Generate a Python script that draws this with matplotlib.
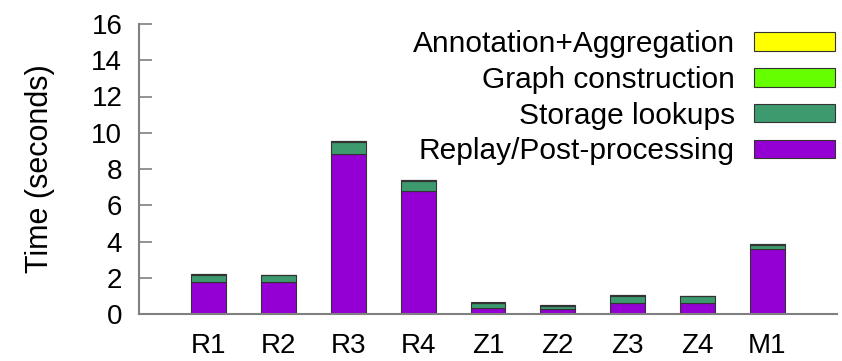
import matplotlib
matplotlib.use("Agg")
import matplotlib.pyplot as plt
import numpy as np

categories = ["R1", "R2", "R3", "R4", "Z1", "Z2", "Z3", "Z4", "M1"]
replay = [1.75, 1.75, 8.81, 6.79, 0.33, 0.26, 0.62, 0.59, 3.59]
storage = [0.42, 0.38, 0.68, 0.55, 0.28, 0.20, 0.40, 0.39, 0.22]
graph = [0.03, 0.03, 0.04, 0.04, 0.02, 0.02, 0.02, 0.02, 0.03]
annot = [0.01, 0.01, 0.01, 0.01, 0.01, 0.01, 0.01, 0.01, 0.01]
series_names = ["Replay/Post-processing", "Storage lookups", "Graph construction", "Annotation+Aggregation"]
colors = ["#9400d3", "#3d9a6f", "#66ff00", "#ffff00"]
yticks = [0, 2, 4, 6, 8, 10, 12, 14, 16]

plt.rcParams['font.family'] = ['Liberation Sans', 'DejaVu Sans']
fig = plt.figure(figsize=(8.42, 3.61), dpi=100)
ax = fig.add_axes([139/842, 1-314/361, (837-139)/842, (314-24)/361])

x = np.arange(len(categories))
bottom = np.zeros(len(categories))
handles = []
for vals, name, c in zip([replay, storage, graph, annot], series_names, colors):
    b = ax.bar(x, vals, width=0.5, bottom=bottom, color=c, edgecolor="#333333", linewidth=0.8, label=name)
    handles.append(b)
    bottom += np.array(vals)

ax.set_xlim(-1, 9)
ax.set_ylim(0, 16)
ax.set_yticks(yticks)
ax.set_xticks(x)
ax.set_xticklabels(categories)
ax.tick_params(axis='y', direction='in', length=9, width=1.2, color='#808080', labelsize=20, pad=12)
ax.tick_params(axis='x', length=0, labelsize=20, pad=14)
for s in ['top', 'right']:
    ax.spines[s].set_visible(False)
for s in ['left', 'bottom']:
    ax.spines[s].set_color('#808080')
    ax.spines[s].set_linewidth(1.5)
ax.set_ylabel("Time (seconds)", fontsize=22, labelpad=26)

leg = ax.legend(handles[::-1], series_names[::-1], loc='upper right', frameon=False,
                fontsize=21.5, markerfirst=False, alignment='right', handlelength=2.7,
                handleheight=0.57, labelspacing=0.26, handletextpad=0.65,
                borderaxespad=0.0, bbox_to_anchor=(1.014, 1.02))
fig.savefig("out.png", dpi=100)
